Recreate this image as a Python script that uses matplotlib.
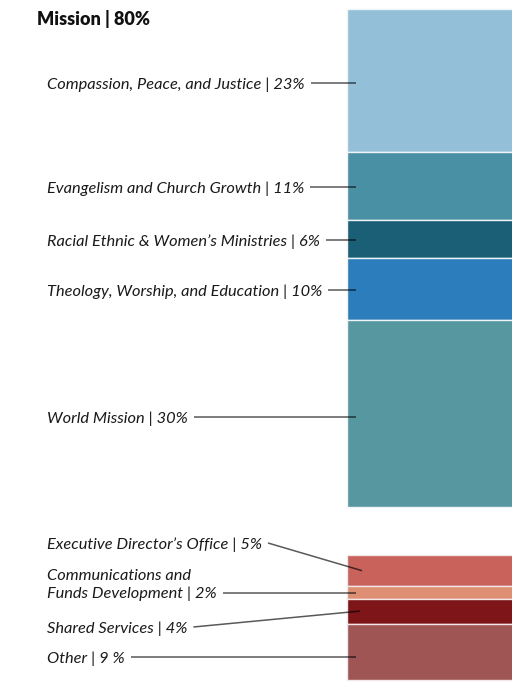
import matplotlib
matplotlib.use("Agg")
import matplotlib.pyplot as plt

# Data
mission_labels = ["Compassion, Peace, and Justice | 23%",
                  "Evangelism and Church Growth | 11%",
                  "Racial Ethnic & Women\u2019s Ministries | 6%",
                  "Theology, Worship, and Education | 10%",
                  "World Mission | 30%"]
mission_values = [23, 11, 6, 10, 30]
mission_colors = ["#93C0D8", "#4A90A4", "#1A5F75", "#2B7DBB", "#5797A0"]

other_labels = ["Executive Director\u2019s Office | 5%",
                "Communications and\nFunds Development | 2%",
                "Shared Services | 4%",
                "Other | 9 %"]
other_values = [5, 2, 4, 9]
other_colors = ["#C8625A", "#DE8E72", "#7E1518", "#A05555"]

title = "Mission | 80%"

# Layout
W, H = 512, 684
scale = 6.22          # pixels per percent
top_px = 9
gap = 7.8             # gap between groups, percent units

fig = plt.figure(figsize=(W / 100, H / 100), dpi=100)
ax = fig.add_axes([0, 0, 1, 1])
ax.set_xlim(0, W)
ax.set_ylim((H - top_px) / scale, -top_px / scale)
ax.axis("off")

bar_x, bar_w = 347, 170

def px(y_pixel):
    return (y_pixel - top_px) / scale

font = dict(family="Lato", style="italic", fontsize=11.8, color="#1a1a1a")

# Mission bar
bottom = 0
mission_centers = []
for v, c in zip(mission_values, mission_colors):
    ax.bar(bar_x, v, bottom=bottom, width=bar_w, align="edge", color=c,
           edgecolor="#eef4f8", linewidth=1.0)
    mission_centers.append(bottom + v / 2)
    bottom += v

other_start = sum(mission_values) + gap
bottom = other_start
other_centers = []
for v, c in zip(other_values, other_colors):
    ax.bar(bar_x, v, bottom=bottom, width=bar_w, align="edge", color=c,
           edgecolor="#f3e6e6", linewidth=1.0)
    other_centers.append(bottom + v / 2)
    bottom += v

ax.text(37, px(19), title, family="Lato", fontweight="heavy", fontsize=13,
        color="#111111", va="center", ha="left")

text_x = 47
mission_text_y = [px(83), px(187), px(240), px(290), px(417)]
other_text_y = [px(543), px(583), px(627), px(657)]
other_line_start_y = [px(543), px(593), px(627), px(657)]
other_line_end = [(362, other_centers[0]), (356, px(593)),
                  (360, other_centers[2]), (356, px(657))]

fig.canvas.draw()
renderer = fig.canvas.get_renderer()

def add_label(txt, ty, line_y, end):
    t = ax.text(text_x, ty + 0.3, txt, va="center", ha="left", linespacing=1.3, **font)
    bb = t.get_window_extent(renderer=renderer)
    x_start = ax.transData.inverted().transform((bb.x1 + 6, 0))[0]
    ax.plot([x_start, end[0]], [line_y, end[1]], color="black", alpha=0.65,
            lw=1.1, solid_capstyle="butt")

for txt, ty in zip(mission_labels, mission_text_y):
    add_label(txt, ty, ty, (356, ty))

for txt, ty, ly, end in zip(other_labels, other_text_y, other_line_start_y, other_line_end):
    add_label(txt, ty, ly, end)

fig.savefig("out.png", dpi=100)
